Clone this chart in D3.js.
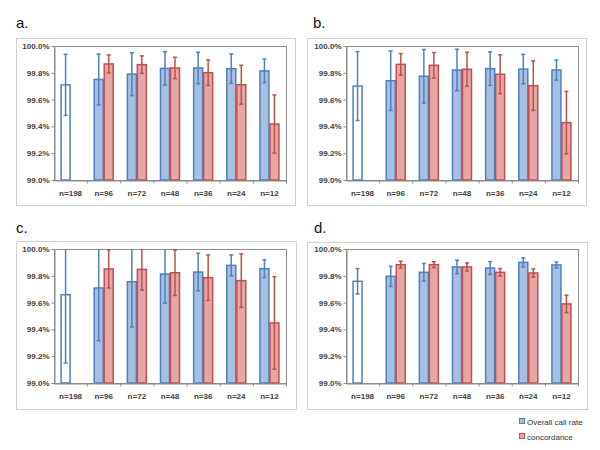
<!DOCTYPE html>
<html><head><meta charset="utf-8">
<script src="https://cdn.jsdelivr.net/npm/d3@7"></script>
<style>body{margin:0;background:#fff;}svg{display:block;font-family:"Liberation Sans",Arial,sans-serif;}</style>
</head><body>
<svg id="chart" width="600" height="450"></svg>
<script>
const categories = ["n=198","n=96","n=72","n=48","n=36","n=24","n=12"];
const yTicks = [99.0, 99.2, 99.4, 99.6, 99.8, 100.0];
const panelLabels = ["a.","b.","c.","d."];
const seriesNames = ["Overall call rate","concordance"];

// panel a
const overallA    = [99.71, 99.75, 99.79, 99.833, 99.836, 99.831, 99.814];
const overallAErr = [0.228, 0.19, 0.16, 0.125, 0.117, 0.11, 0.088];
const concA       = [null, 99.866, 99.861, 99.836, 99.801, 99.711, 99.418];
const concAErr    = [null, 0.067, 0.065, 0.08, 0.095, 0.145, 0.217];
// panel b
const overallB    = [99.701, 99.741, 99.774, 99.821, 99.831, 99.828, 99.821];
const overallBErr = [0.257, 0.222, 0.2, 0.155, 0.125, 0.11, 0.075];
const concB       = [null, 99.863, 99.856, 99.826, 99.789, 99.704, 99.428];
const concBErr    = [null, 0.08, 0.095, 0.127, 0.145, 0.185, 0.233];
// panel c
const overallC    = [99.659, 99.709, 99.756, 99.813, 99.828, 99.878, 99.853];
const overallCErr = [0.51, 0.393, 0.338, 0.216, 0.14, 0.078, 0.066];
const concC       = [null, 99.851, 99.848, 99.823, 99.786, 99.764, 99.448];
const concCErr    = [null, 0.142, 0.155, 0.17, 0.17, 0.2, 0.345];
// panel d
const overallD    = [99.759, 99.796, 99.826, 99.866, 99.858, 99.9, 99.881];
const overallDErr = [0.095, 0.075, 0.066, 0.05, 0.048, 0.034, 0.022];
const concD       = [null, 99.883, 99.883, 99.866, 99.826, 99.821, 99.59];
const concDErr    = [null, 0.025, 0.022, 0.03, 0.028, 0.03, 0.065];

const panels = [
  {label: panelLabels[0], overall: overallA, oErr: overallAErr, conc: concA, cErr: concAErr, lx: 16, ly: 28, box: [16, 38, 295, 205], plot: [54, 46, 286, 180]},
  {label: panelLabels[1], overall: overallB, oErr: overallBErr, conc: concB, cErr: concBErr, lx: 313, ly: 28, box: [307, 38, 586, 205], plot: [346, 46, 578, 180]},
  {label: panelLabels[2], overall: overallC, oErr: overallCErr, conc: concC, cErr: concCErr, lx: 16, ly: 233, box: [16, 241, 296, 409], plot: [54, 249, 286, 383]},
  {label: panelLabels[3], overall: overallD, oErr: overallDErr, conc: concD, cErr: concDErr, lx: 314, ly: 233, box: [307, 242, 587, 409], plot: [346, 249, 578, 383]}
];

const blueFill = "#a7bfe0", blueStroke = "#4f81bd";
const redFill = "#e6a6a6", redStroke = "#c0504d";

const svg = d3.select("#chart");

panels.forEach((p, pi) => {
  const [bx0, by0, bx1, by1] = p.box;
  const [px0, py0, px1, py1] = p.plot;
  svg.append("text").attr("x", p.lx).attr("y", p.ly).attr("font-size", 15).attr("fill", "#111").text(p.label);
  svg.append("rect").attr("x", bx0 + 0.5).attr("y", by0 + 0.5).attr("width", bx1 - bx0).attr("height", by1 - by0)
     .attr("fill", "#fff").attr("stroke", "#d0d0d0").attr("stroke-width", 1);

  const x = d3.scaleBand().domain(categories).range([px0, px1]).padding(0);
  const bw = x.bandwidth();
  const x1 = d3.scaleBand().domain(seriesNames).range([0, bw]).paddingInner(0).paddingOuter((bw / 10 - 2) / 2);
  const y = d3.scaleLinear().domain([99.0, 100.0]).range([py1, py0]);

  // plot area border
  svg.append("rect").attr("x", px0 + 0.5).attr("y", py0 + 0.5).attr("width", px1 - px0).attr("height", py1 - py0)
     .attr("fill", "none").attr("stroke", "#8c8c8c").attr("stroke-width", 1);

  const clipId = "clip" + pi;
  svg.append("clipPath").attr("id", clipId).append("rect")
     .attr("x", px0 - 5).attr("y", py0).attr("width", px1 - px0 + 10).attr("height", py1 - py0);

  const g = svg.append("g");
  const data = categories.map((c, i) => ({c, i, o: p.overall[i], oe: p.oErr[i], r: p.conc[i], re: p.cErr[i]}));

  // bars
  data.forEach(d => {
    const xo = x(d.c) + x1(seriesNames[0]);
    g.append("rect").attr("x", xo + 0.5).attr("y", y(d.o)).attr("width", x1.bandwidth() - 1).attr("height", y(99.0) - y(d.o))
     .attr("fill", d.i === 0 ? "#fff" : blueFill).attr("stroke", blueStroke).attr("stroke-width", 1.5);
    if (d.r != null) {
      const xr = x(d.c) + x1(seriesNames[1]);
      g.append("rect").attr("x", xr + 0.5).attr("y", y(d.r)).attr("width", x1.bandwidth() - 1).attr("height", y(99.0) - y(d.r))
       .attr("fill", redFill).attr("stroke", redStroke).attr("stroke-width", 1.5);
    }
  });

  // error bars
  const eg = svg.append("g").attr("clip-path", `url(#${clipId})`);
  function errBar(cx, v, e, col) {
    eg.append("line").attr("x1", cx).attr("x2", cx).attr("y1", y(v + e)).attr("y2", y(v - e))
      .attr("stroke", col).attr("stroke-width", 1.5);
    [v + e, v - e].forEach(t => {
      eg.append("line").attr("x1", cx - 2).attr("x2", cx + 2).attr("y1", y(t)).attr("y2", y(t))
        .attr("stroke", col).attr("stroke-width", 1.5);
    });
  }
  data.forEach(d => {
    errBar(x(d.c) + x1(seriesNames[0]) + x1.bandwidth() / 2, d.o, d.oe, blueStroke);
    if (d.r != null) errBar(x(d.c) + x1(seriesNames[1]) + x1.bandwidth() / 2, d.r, d.re, redStroke);
  });

  // y axis
  const yAxis = d3.axisLeft(y).tickValues(yTicks).tickSize(3).tickSizeOuter(0)
    .tickFormat(v => d3.format(".1f")(v) + "%");
  const ya = svg.append("g").attr("transform", `translate(${px0 + 0.5},0)`).call(yAxis);
  ya.select(".domain").attr("stroke", "#8c8c8c");
  ya.selectAll(".tick line").attr("stroke", "#8c8c8c");
  ya.selectAll(".tick text").attr("font-size", 8).attr("font-weight", "bold").attr("fill", "#404040")
    .attr("font-family", "'Liberation Sans', Arial, sans-serif").attr("x", -5);

  // x axis
  const xAxis = d3.axisBottom(x).tickSize(0).tickSizeOuter(0);
  const xa = svg.append("g").attr("transform", `translate(0,${py1 + 0.5})`).call(xAxis);
  xa.select(".domain").attr("stroke", "#8c8c8c");
  xa.selectAll(".tick text").attr("font-size", 8).attr("font-weight", "bold").attr("fill", "#404040")
    .attr("font-family", "'Liberation Sans', Arial, sans-serif").attr("dy", "0").attr("y", 15);
  // category boundary ticks
  categories.slice(1).concat(["end"]).forEach((c, i) => {
    const bx = c === "end" ? px1 : x(c);
    xa.append("line").attr("x1", bx + 0.5).attr("x2", bx + 0.5).attr("y1", 0).attr("y2", 3).attr("stroke", "#8c8c8c");
  });
});

// legend
const legend = svg.append("g");
const legendColors = [[blueFill, blueStroke], [redFill, redStroke]];
seriesNames.forEach((s, i) => {
  const ly = 422 + i * 15;
  legend.append("rect").attr("x", 519.5).attr("y", ly - 3.5).attr("width", 5).attr("height", 5)
    .attr("fill", legendColors[i][0]).attr("stroke", legendColors[i][1]).attr("stroke-width", 1);
  legend.append("text").attr("x", 527).attr("y", ly + 3).attr("font-size", 8).attr("fill", "#333").text(s);
});
</script>
</body></html>
